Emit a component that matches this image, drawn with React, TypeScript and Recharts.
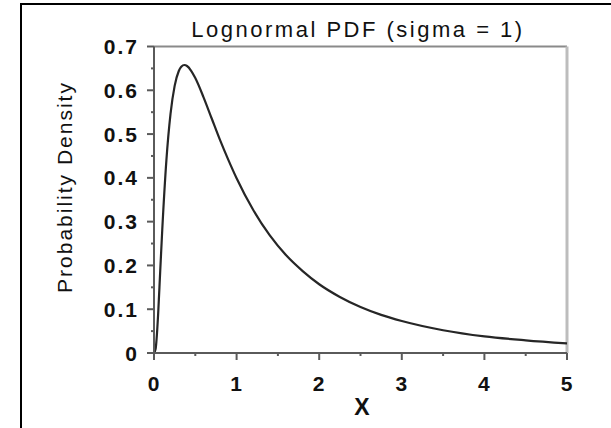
import React from 'react';
import { LineChart, Line, XAxis, YAxis, ReferenceLine } from 'recharts';

const titleText = 'Lognormal PDF (sigma = 1)';
const xAxisTitle = 'X';
const yAxisTitle = 'Probability Density';

const xValues = [0, 0.02, 0.03, 0.05, 0.075, 0.1, 0.15, 0.2, 0.25, 0.3, 0.33, 0.368, 0.4, 0.45, 0.5, 0.6, 0.7, 0.8, 0.9, 1.0, 1.2, 1.4, 1.6, 1.8, 2.0, 2.25, 2.5, 2.75, 3.0, 3.5, 4.0, 4.5, 5.0];
const densityValues = [0, 0.0095, 0.0285, 0.0886, 0.186, 0.2815, 0.44, 0.546, 0.61, 0.644, 0.6538, 0.6577, 0.6555, 0.6445, 0.628, 0.584, 0.535, 0.486, 0.441, 0.399, 0.327, 0.269, 0.223, 0.187, 0.157, 0.128, 0.105, 0.087, 0.073, 0.052, 0.038, 0.029, 0.022];

const xMajorTicks = [0, 1, 2, 3, 4, 5];
const xMinorTicks = [0.5, 1.5, 2.5, 3.5, 4.5];
const yMajorTicks = [0, 0.1, 0.2, 0.3, 0.4, 0.5, 0.6, 0.7];
const yMinorTicks = [0.05, 0.15, 0.25, 0.35, 0.45, 0.55, 0.65];

const data = xValues.map((x, i) => ({ x, density: densityValues[i] }));
const allXTicks = [...xMajorTicks, ...xMinorTicks].sort((a, b) => a - b);
const allYTicks = [...yMajorTicks, ...yMinorTicks].sort((a, b) => a - b);

const FONT = '"Liberation Sans", Arial, Helvetica, sans-serif';
const AXIS_COLOR = '#5a5a5a';

const XTick = (props: any) => {
  const { x, y, payload } = props;
  const v = payload.value;
  const major = xMajorTicks.includes(v);
  return (
    <g>
      <line x1={x} x2={x} y1={y} y2={y + (major ? 7 : 3)} stroke={AXIS_COLOR} strokeWidth={2} />
      {major && (
        <text x={x} y={y + 38} textAnchor="middle" fontFamily={FONT} fontWeight="bold" fontSize={21} fill="#111" letterSpacing={1}>
          {String(v)}
        </text>
      )}
    </g>
  );
};

const YTick = (props: any) => {
  const { x, y, payload } = props;
  const v = payload.value;
  const major = yMajorTicks.includes(v);
  return (
    <g>
      <line x1={x - (major ? 7 : 3)} x2={x} y1={y} y2={y} stroke={AXIS_COLOR} strokeWidth={2} />
      {major && (
        <text x={x - 15} y={y + 7.5} textAnchor="end" fontFamily={FONT} fontWeight="bold" fontSize={21} fill="#111" letterSpacing={2}>
          {String(v)}
        </text>
      )}
    </g>
  );
};

export default function App() {
  return (
    <div style={{ position: 'fixed', left: 0, top: 0, width: 611, height: 428, overflow: 'hidden', background: '#fff' }}>
      <div style={{ position: 'absolute', left: 20, top: 3, width: 700, height: 600, border: '2px solid #000', boxSizing: 'border-box' }} />
      <div style={{ position: 'absolute', left: 0, top: 0 }}>
        <LineChart width={611} height={428} data={data} margin={{ top: 46.5, right: 44, bottom: 45, left: 0 }}>
          <XAxis
            dataKey="x"
            type="number"
            domain={[0, 5]}
            ticks={allXTicks}
            interval={0}
            tickSize={0}
            tickMargin={0}
            tickLine={false}
            tick={<XTick />}
            axisLine={{ stroke: AXIS_COLOR, strokeWidth: 2 }}
            height={30}
          />
          <YAxis
            type="number"
            domain={[0, 0.7]}
            ticks={allYTicks}
            interval={0}
            tickSize={0}
            tickMargin={0}
            tickLine={false}
            tick={<YTick />}
            axisLine={{ stroke: AXIS_COLOR, strokeWidth: 2 }}
            width={154}
          />
          <ReferenceLine y={0.7} stroke="#8a8a8a" strokeWidth={2} />
          <ReferenceLine x={5} stroke="#bdbdbd" strokeWidth={3} />
          <Line
            type="monotone"
            dataKey="density"
            stroke="#262626"
            strokeWidth={2.2}
            dot={false}
            isAnimationActive={false}
          />
        </LineChart>
      </div>
      <svg width={611} height={428} style={{ position: 'absolute', left: 0, top: 0, pointerEvents: 'none' }}>
        <text x={358} y={37} textAnchor="middle" fontFamily={FONT} fontSize={22} fill="#111" letterSpacing={2.5}>
          {titleText}
        </text>
        <text
          x={72}
          y={187}
          textAnchor="middle"
          fontFamily={FONT}
          fontSize={21}
          fill="#111"
          letterSpacing={2}
          transform="rotate(-90, 72, 187)"
        >
          {yAxisTitle}
        </text>
        <text x={362} y={415} textAnchor="middle" fontFamily={FONT} fontWeight="bold" fontSize={23} fill="#111">
          {xAxisTitle}
        </text>
      </svg>
    </div>
  );
}
